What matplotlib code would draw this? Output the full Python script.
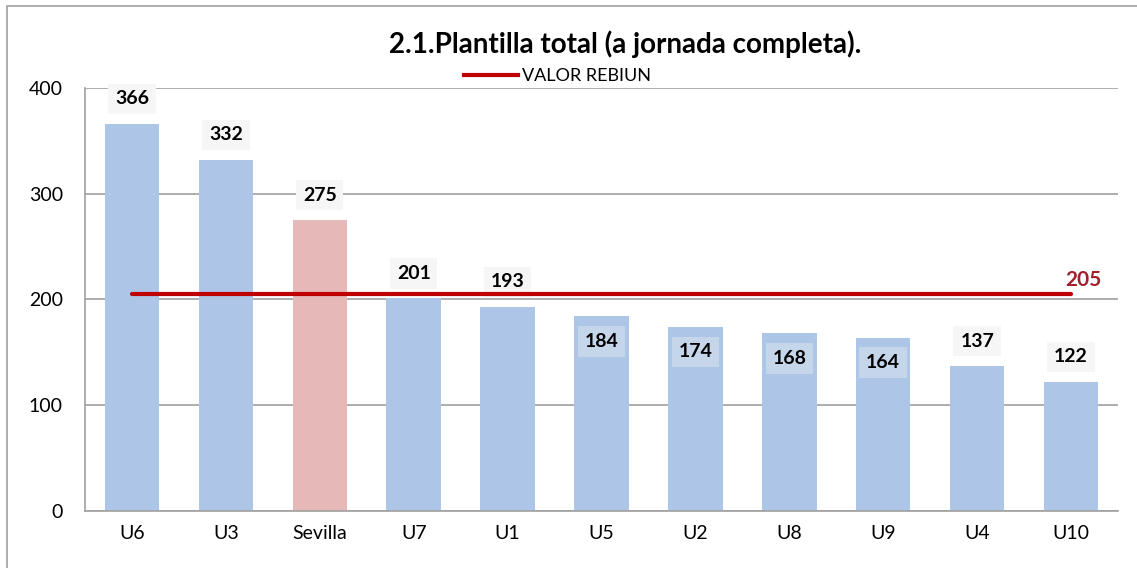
import matplotlib.pyplot as plt
from matplotlib.lines import Line2D
from matplotlib.patches import Rectangle

categories = ['U6', 'U3', 'Sevilla', 'U7', 'U1', 'U5', 'U2', 'U8', 'U9', 'U4', 'U10']
values = [366, 332, 275, 201, 193, 184, 174, 168, 164, 137, 122]
rebiun = 205
highlight = 'Sevilla'
labels_inside = ['U5', 'U2', 'U8', 'U9']

plt.rcParams['font.family'] = ['Lato', 'DejaVu Sans']

fig = plt.figure(figsize=(11.37, 5.68), dpi=100)
ax = fig.add_axes([0.0748, 0.1004, 0.9085, 0.7447])

# outer chart border
fig.patches.append(Rectangle((0.006, -0.01), 1.2, 1.0, transform=fig.transFigure,
                             fill=False, edgecolor='#a0a0a0', lw=1.2))

x = range(len(categories))
colors = ['#e6b8b7' if c == highlight else '#adc5e6' for c in categories]
ax.bar(x, values, width=0.58, color=colors, zorder=2)

ax.plot([0, len(categories) - 1], [rebiun, rebiun], color='#c00000', lw=3,
        solid_capstyle='round', zorder=5)
ax.annotate(str(rebiun), (len(categories) - 1, rebiun), xytext=(9, 3),
            textcoords='offset points', color='#a0202c', fontsize=15,
            fontweight='bold', va='bottom', ha='center')

for i, (c, v) in enumerate(zip(categories, values)):
    if c in labels_inside:
        ax.annotate(str(v), (i, v), xytext=(0, -18), textcoords='offset points',
                    ha='center', va='center', fontsize=14, fontweight='bold', zorder=4,
                    bbox=dict(boxstyle='square,pad=0.35', fc='#c6d6ea', ec='none'))
    else:
        ax.annotate(str(v), (i, v), xytext=(0, 18), textcoords='offset points',
                    ha='center', va='center', fontsize=14, fontweight='bold', zorder=4,
                    bbox=dict(boxstyle='square,pad=0.35', fc='#f6f6f6', ec='none'))

ax.set_ylim(0, 400)
ax.set_xlim(-0.5, len(categories) - 0.5)
ax.set_yticks([0, 100, 200, 300, 400])
ax.set_xticks(list(x))
ax.set_xticklabels(categories)
ax.tick_params(axis='both', length=0, labelsize=14)
ax.tick_params(axis='x', pad=10)
ax.tick_params(axis='y', pad=16)
ax.grid(axis='y', color='#a0a0a0', lw=1.2, zorder=0)
for s in ['top', 'right']:
    ax.spines[s].set_visible(False)
for s in ['left', 'bottom']:
    ax.spines[s].set_color('#a0a0a0')
    ax.spines[s].set_linewidth(1.2)

fig.text(0.55, 0.922, '2.1.Plantilla total (a jornada completa).', ha='center',
         va='center', fontsize=20, fontweight='bold')
handle = Line2D([], [], color='#c00000', lw=3)
fig.legend([handle], ['VALOR REBIUN'], loc='center', bbox_to_anchor=(0.49, 0.866),
           frameon=False, fontsize=13, handlelength=3.0, handletextpad=0.2)

fig.savefig('out.png', dpi=100)
